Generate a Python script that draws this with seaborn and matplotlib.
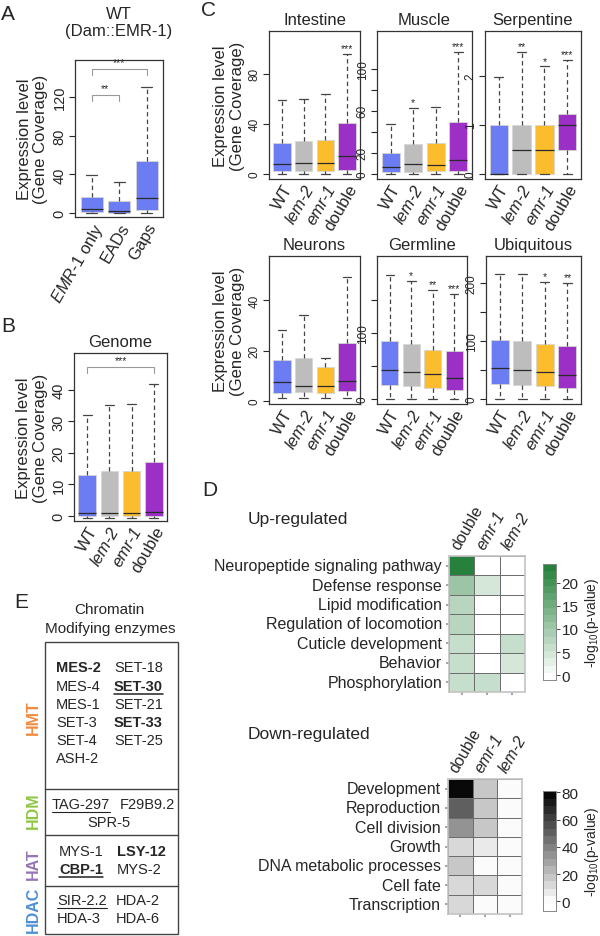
import numpy as np
import pandas as pd
import matplotlib
matplotlib.use("Agg")
import matplotlib.pyplot as plt
import seaborn as sns
from matplotlib.colors import ListedColormap, to_rgb

W, H = 600, 937

# ---- A: five-number summaries (min, Q1, median, Q3, max)
a_groups = ["$\\mathit{EMR}$-$\\mathit{1}$ only", "EADs", "Gaps"]
a_stats = [[0, 1, 4, 17, 39], [0, 0.5, 2, 13, 32], [0, 3, 16, 54, 130]]

# ---- B: genome
strains = ["WT", "lem-2", "emr-1", "double"]
b_stats = [[-0.5, 0, 1, 13, 32], [-0.5, 0, 1, 14.3, 35.3],
           [-0.5, 0, 1, 14.4, 35.5], [-0.5, 0, 1.3, 17, 42]]

# ---- C: tissue specific genes
intestine = [[0, 2, 8, 25, 59], [0, 2, 8.5, 26, 60], [0, 2, 9, 27, 64], [0, 3, 14, 41, 96]]
muscle = [[0, 1.5, 6, 20, 47], [0, 2, 9, 28, 63], [0, 2.5, 8, 29, 64], [0, 2.5, 13, 49, 116]]
serpentine = [[0, 0, 0, 1, 1.98], [0, 0, 0.5, 1, 2.5], [0, 0, 0.5, 1, 2.2], [0, 0.5, 1, 1.23, 2.33]]
neurons = [[1, 3.2, 7.5, 16.3, 28], [1, 3.5, 6, 17, 34], [1, 3.3, 6, 13.5, 17], [1, 4, 7.9, 23, 49]]
germline = [[0, 21, 44, 88, 188], [0, 19, 41, 83, 179], [0, 17, 38, 75, 165], [0, 14, 32, 73, 160]]
ubiquitous = [[0, 26, 53, 102, 216], [0, 24, 50, 101, 216], [0, 22, 47, 95, 202], [0, 19, 42, 92, 200]]

intestine_stars = ["", "", "", "***"]
muscle_stars = ["", "*", "", "***"]
serpentine_stars = ["", "**", "*", "***"]
neurons_stars = ["", "", "", ""]
germline_stars = ["", "*", "**", "***"]
ubiquitous_stars = ["", "", "*", "**"]

# ---- D: GO enrichment, -log10(p)
go_cols = ["double", "emr-1", "lem-2"]
up_terms = ["Neuropeptide signaling pathway", "Defense response", "Lipid modification",
            "Regulation of locomotion", "Cuticle development", "Behavior", "Phosphorylation"]
up_double = [22.5, 10.5, 7.6, 7.6, 6, 6, 6]
up_emr1 = [0, 3.7, 0, 0, 0, 0, 6.4]
up_lem2 = [0, 0, 0, 0, 6, 4.1, 0]

down_terms = ["Development", "Reproduction", "Cell division", "Growth",
              "DNA metabolic processes", "Cell fate", "Transcription"]
down_double = [80, 52, 36, 11, 20, 12, 12]
down_emr1 = [17.5, 17.5, 17.5, 6.5, 0, 13.5, 0]
down_lem2 = [0, 0, 0, 0, 0, 0, 0]

# ---- E: chromatin modifying enzymes
hmt_col1 = ["MES-2", "MES-4", "MES-1", "SET-3", "SET-4", "ASH-2"]
hmt_col2 = ["SET-18", "SET-30", "SET-21", "SET-33", "SET-25"]
bold_names = ["MES-2", "SET-30", "SET-33", "LSY-12", "CBP-1"]
underlined = ["SET-30", "TAG-297", "CBP-1", "SIR-2.2"]

blue, gray, gold, purple = "#6c7cf2", "#bdbdbd", "#fbbd2e", "#9b2fc6"
strain_colors = [blue, gray, gold, purple]

sns.set_theme(style="ticks")
plt.rcParams["font.family"] = ["Liberation Sans", "DejaVu Sans"]
plt.rcParams["mathtext.fontset"] = "custom"
plt.rcParams["mathtext.it"] = "Liberation Sans:italic"
plt.rcParams["mathtext.rm"] = "Liberation Sans"

fig = plt.figure(figsize=(6, 9.37), dpi=100)


def rect(l, t, r, b):
    return [l / W, 1 - b / H, (r - l) / W, (b - t) / H]


def box_panel(ax, labels, stats, colors, ylim, yticks, yticklabels=None, ysize=8.5):
    df = pd.DataFrame({"group": np.repeat(labels, 5), "value": np.concatenate(stats)})
    sns.boxplot(data=df, x="group", y="value", hue="group", palette=colors,
                whis=(0, 100), width=0.8, linewidth=0.9, linecolor="#2a2a2a",
                fliersize=0, legend=False, saturation=1, ax=ax,
                whiskerprops=dict(linestyle=(0, (3.5, 2.5)), color="#444444"),
                capprops=dict(color="#444444"))
    for p in ax.patches:
        p.set_edgecolor("#d6d6d6")
        p.set_linewidth(0.6)
    ax.set_ylim(*ylim)
    ax.set_xlim(-0.6, len(labels) - 0.4)
    ax.set_yticks(yticks)
    if yticklabels is not None:
        ax.set_yticklabels(yticklabels)
    ax.tick_params(axis="y", labelrotation=90, labelsize=ysize, length=4, width=0.8, pad=2)
    for t in ax.get_yticklabels():
        t.set_va("center")
    ax.tick_params(axis="x", length=0, labelsize=12, pad=2)
    ax.set_xticks(range(len(labels)))
    ax.set_xticklabels(labels, rotation=60, ha="right", rotation_mode="anchor")
    for t in ax.get_xticklabels():
        if t.get_text() in ("lem-2", "emr-1"):
            t.set_fontstyle("italic")
    for s in ax.spines.values():
        s.set_visible(True)
        s.set_color("#333333")
        s.set_linewidth(0.9)
    ax.set_xlabel("")
    ax.set_ylabel("")


def stars(ax, stats, marks):
    for i, (st, m) in enumerate(zip(stats, marks)):
        if m:
            ax.annotate(m, (i, st[4]), xytext=(0, 0.5), textcoords="offset points",
                        ha="center", va="bottom", fontsize=7.5)


ylab = "Expression level\n(Gene Coverage)"

# ---- A
axA = fig.add_axes(rect(75, 61, 163, 218))
box_panel(axA, a_groups, a_stats, [blue] * 3, (-4, 158), [0, 40, 80, 120], ysize=10.5)
axA.set_title("WT\n(Dam::EMR-1)", fontsize=12, pad=18, linespacing=1.15)
axA.set_ylabel(ylab, fontsize=12, labelpad=3, linespacing=1.1)
for (x0, x1, y, m) in [(0, 1, 122, "**"), (0, 2, 149, "***")]:
    axA.plot([x0, x0, x1, x1], [y - 6, y, y, y - 6], color="#999999", lw=0.8)
    axA.text((x0 + x1) / 2, y + 2, m, ha="center", va="bottom", fontsize=7.5)

# ---- B
axB = fig.add_axes(rect(74, 354, 167, 522))
box_panel(axB, strains, b_stats, strain_colors, (-1.6, 51.7), [0, 10, 20, 30, 40], ysize=10.5)
axB.set_title("Genome", fontsize=12, pad=5)
axB.set_ylabel(ylab, fontsize=12, labelpad=3, linespacing=1.1)
axB.plot([0, 0, 3, 3], [45.3, 47.3, 47.3, 45.3], color="#999999", lw=0.8)
axB.text(1.5, 48, "***", ha="center", va="bottom", fontsize=7.5)

# ---- C
c_panels = [
    ("Intestine", intestine, intestine_stars, (269, 32, 360, 180), (-4, 114), [0, 40, 80], None),
    ("Muscle", muscle, muscle_stars, (377, 32, 472, 180), (-5, 136),
     [0, 20, 40, 60, 80, 100], ["0", "20", "", "60", "", "100"]),
    ("Serpentine", serpentine, serpentine_stars, (485, 32, 581, 180), (-0.1, 2.92), [0, 1, 2], None),
    ("Neurons", neurons, neurons_stars, (269, 257, 360, 405), (-1.2, 57.5), [0, 20, 40], None),
    ("Germline", germline, germline_stars, (377, 257, 467, 405), (-7.6, 217),
     [0, 50, 100, 150], ["0", "", "100", ""]),
    ("Ubiquitous", ubiquitous, ubiquitous_stars, (486, 257, 581, 405), (-8.6, 247),
     [0, 50, 100, 150, 200], ["0", "", "100", "", "200"]),
]
for name, st, mk, box, yl, yt, ytl in c_panels:
    ax = fig.add_axes(rect(*box))
    box_panel(ax, strains, st, strain_colors, yl, yt, ytl)
    stars(ax, st, mk)
    ax.set_title(name, fontsize=12, pad=5)
    if name in ("Intestine", "Neurons"):
        ax.set_ylabel(ylab, fontsize=12, labelpad=3, linespacing=1.1)


# ---- D heatmaps
def go_cmap(top, vmin, vmax, n=16):
    edges = np.linspace(vmin, vmax, n + 1)
    centers = (edges[:-1] + edges[1:]) / 2
    top = np.array(to_rgb(top))
    cols = []
    for c in centers:
        f = max(c, 0) / vmax
        cols.append(1 - f * (1 - top))
    return ListedColormap(cols)


def go_heat(box, cbox, terms, values, cmap, vmin, vmax, cticks):
    ax = fig.add_axes(rect(*box))
    cax = fig.add_axes(rect(*cbox))
    mat = pd.DataFrame(np.array(values).T, index=terms, columns=go_cols)
    sns.heatmap(mat, ax=ax, cbar_ax=cax, cmap=cmap, vmin=vmin, vmax=vmax,
                linewidths=0.6, linecolor="#6e6e6e")
    ax.tick_params(axis="x", top=False, bottom=True, labeltop=True, labelbottom=False,
                   length=2, color="#999999", labelsize=11.5, pad=1)
    ax.tick_params(axis="y", left=True, length=2, color="#999999", labelsize=11.5, pad=3)
    ax.set_xticklabels(go_cols, rotation=60, ha="left", rotation_mode="anchor")
    for t in ax.get_xticklabels():
        if t.get_text() != "double":
            t.set_fontstyle("italic")
    ax.set_yticklabels(terms, rotation=0)
    for s in ax.spines.values():
        s.set_visible(True)
        s.set_color("#c4c4c4")
        s.set_linewidth(1.2)
    cax.set_yticks(cticks)
    cax.tick_params(labelsize=11, length=3, width=0.6, pad=1)
    cax.set_ylabel("-log$_{10}$(p-value)", fontsize=10, labelpad=3, rotation=90)
    for s in cax.spines.values():
        s.set_visible(True)
        s.set_color("#888888")
        s.set_linewidth(0.6)
    ax.set_xlabel("")
    ax.set_ylabel("")


go_heat((449, 557, 525, 693), (543, 565, 556, 681), up_terms,
        [up_double, up_emr1, up_lem2], go_cmap("#1e7d34", -1, 24), -1, 24, [0, 5, 10, 15, 20])
go_heat((448, 780, 522, 915), (543, 792, 556, 912), down_terms,
        [down_double, down_emr1, down_lem2], go_cmap("#000000", -7, 81), -7, 81, [0, 20, 40, 60, 80])

# ---- overlay for letters, headings and table E
ov = fig.add_axes([0, 0, 1, 1], zorder=-1)
ov.set_xlim(0, W)
ov.set_ylim(H, 0)
ov.axis("off")
for letter, x, y in [("A", 8, 15), ("B", 8, 327), ("C", 208, 11), ("D", 210, 491), ("E", 21, 603)]:
    ov.text(x, y, letter, fontsize=15, ha="center", va="center")
ov.text(248, 520, "Up-regulated", fontsize=12.5, va="center")
ov.text(248, 735, "Down-regulated", fontsize=12.5, va="center")

ov.text(109, 610, "Chromatin", fontsize=11, ha="center", va="center")
ov.text(110, 629, "Modifying enzymes", fontsize=11, ha="center", va="center")
ov.add_patch(plt.Rectangle((45, 643), 133, 292, fill=False, ec="#444444", lw=1))
for y in [790, 836, 887]:
    ov.plot([45, 178], [y, y], color="#444444", lw=1)
for lab, y, c in [("HMT", 718, "#f28a3d"), ("HDM", 811, "#8dc641"),
                  ("HAT", 864, "#9575b9"), ("HDAC", 910, "#4f8fd6")]:
    ov.text(33, y, lab, rotation=90, ha="center", va="center", fontsize=11.5,
            fontweight="bold", color=c)

hmt_rows = [668, 687, 705, 723, 741, 759]
entries = []
for name, y in zip(hmt_col1, hmt_rows):
    entries.append((name, 56, y, "left"))
for name, y in zip(hmt_col2, hmt_rows):
    entries.append((name, 114, y, "left"))
entries += [("TAG-297", 52, 805, "left"), ("F29B9.2", 120, 805, "left"),
            ("SPR-5", 109, 823, "center"),
            ("MYS-1", 59, 852, "left"), ("LSY-12", 117, 852, "left"),
            ("CBP-1", 59, 870, "left"), ("MYS-2", 117, 870, "left"),
            ("SIR-2.2", 57, 901, "left"), ("HDA-2", 116, 901, "left"),
            ("HDA-3", 57, 919, "left"), ("HDA-6", 116, 919, "left")]
texts = []
for name, x, y, ha in entries:
    t = ov.text(x, y, name, fontsize=10.5, ha=ha, va="center",
                fontweight="bold" if name in bold_names else "normal")
    texts.append((name, t, y))

fig.canvas.draw()
r = fig.canvas.get_renderer()
for name, t, y in texts:
    if name in underlined:
        bb = t.get_window_extent(r)
        x0 = bb.x0 * W / fig.bbox.width
        x1 = bb.x1 * W / fig.bbox.width
        ov.plot([x0, x1], [y + 8, y + 8], color="#222222", lw=1.1 if name in bold_names else 0.8)

fig.savefig("out.png", dpi=100, facecolor="white")
